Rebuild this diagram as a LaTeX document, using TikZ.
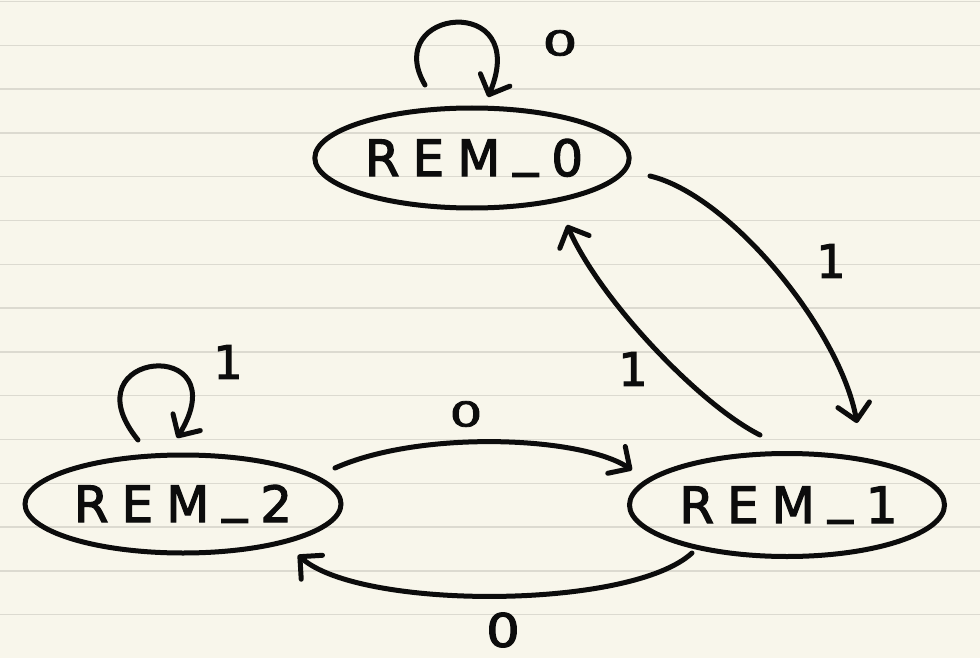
\documentclass[tikz,border=0pt]{standalone}
\usepackage{fontspec}
\usetikzlibrary{arrows.meta,shapes.geometric,calc}
\newfontfamily\hand[FakeBold=2.4]{DejaVu Sans}
\newcommand\lsp{\hspace{13pt}}
\newcommand\undsc{\raisebox{11pt}{\_}}
\definecolor{paper}{HTML}{F8F6EB}
\definecolor{ruling}{HTML}{DCDAD0}
\definecolor{ink}{HTML}{0C0C0C}
\begin{document}
\begin{tikzpicture}[x=1pt,y=-1pt,
  stnode/.style={ellipse, draw=ink, line width=5pt, minimum width=311pt, minimum height=100pt,
    inner sep=0pt, text height=36pt, text depth=0pt, text=ink,
    font=\hand\fontsize{50}{50}\selectfont},
  arr/.style={draw=ink, line width=5pt, line cap=round, line join=round,
    -{Straight Barb[length=16pt,width=32pt,round]}},
  lbl/.style={inner sep=0pt, text=ink, font=\hand\fontsize{46}{46}\selectfont},
  lblsm/.style={inner sep=0pt, text=ink, font=\hand\fontsize{34}{34}\selectfont}]
\useasboundingbox (0,0) rectangle (980,658);
\fill[paper] (0,0) rectangle (980,658);
\foreach \k in {0,...,15}
  \draw[ruling, line width=1.5pt] (0,{1.5+43.8*\k}) -- (980,{1.5+43.8*\k});
% states
\node[stnode] (n0) at (472,158) {\hspace{4pt}R\lsp E\lsp M\lsp\undsc\lsp 0};
\node[stnode, minimum width=316pt, minimum height=98pt] (n2) at (183,504) {R\lsp E\lsp M\lsp\undsc\lsp 2};
\node[stnode, minimum width=315pt, minimum height=103pt] (n1) at (787,505) {\hspace{3pt}R\lsp E\lsp M\lsp\undsc\lsp 1};
% self loops
\draw[arr] ($(n0)+(-47,-73)$) .. controls ($(n0)+(-92,-150)$) and ($(n0)+(60,-166)$) .. ($(n0)+(16,-61)$);
\draw[arr] ($(n2)+(-45,-64)$) .. controls ($(n2)+(-118,-154)$) and ($(n2)+(57,-169)$) .. ($(n2)+(-6,-66)$);
% transitions
\draw[arr] ($(n0)+(178,18)$) .. controls ($(n0)+(258,37)$) and ($(n1)+(53,-175)$) .. ($(n1)+(70,-82)$);
\draw[arr] ($(n1)+(-27,-70)$) .. controls ($(n1)+(-87,-100)$) and ($(n0)+(128,142)$) .. ($(n0)+(95,67)$);
\draw[arr] ($(n2)+(152,-36)$) .. controls ($(n2)+(237,-74)$) and ($(n1)+(-207,-69)$) .. ($(n1)+(-155,-35)$);
\draw[arr] ($(n1)+(-95,48)$) .. controls ($(n1)+(-157,105)$) and ($(n2)+(177,106)$) .. ($(n2)+(115,51)$);
% labels
\node[lblsm] (la) at (560,43) {\scalebox{1.6}[1]{0}};
\node[lbl] (lb) at (228,362) {1};
\node[lbl] (lc) at (831,261) {1};
\node[lbl] (ld) at (633,369) {1};
\node[lblsm] (le) at (466,414) {\scalebox{1.5}[1]{0}};
\node[lbl] (lf) at (503,630) {\scalebox{1.15}[1]{0}};
\end{tikzpicture}
\end{document}
